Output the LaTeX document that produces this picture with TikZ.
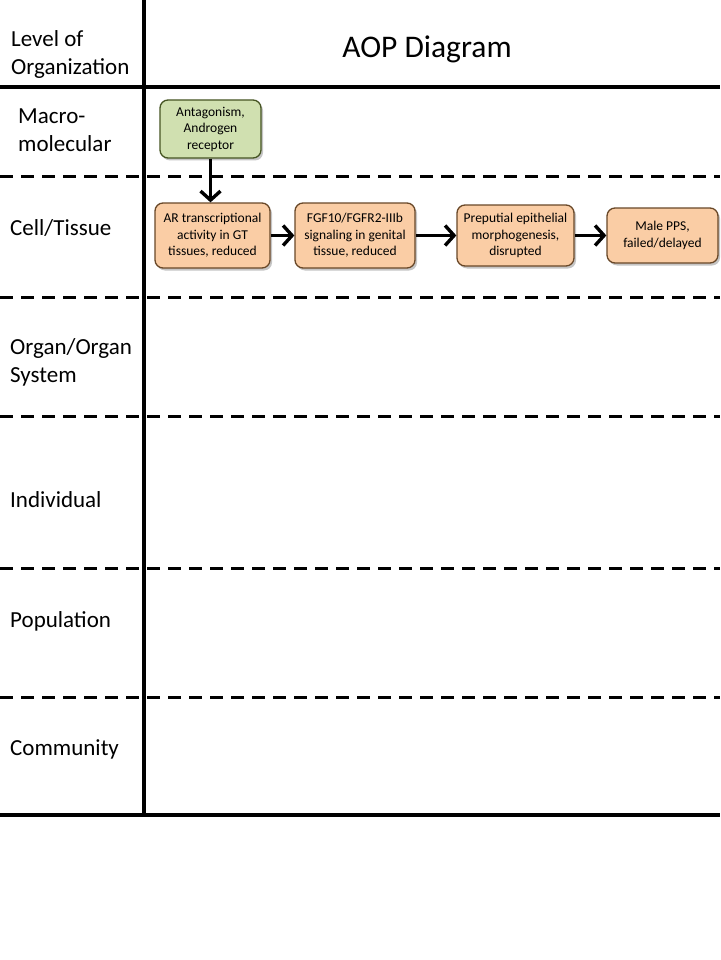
\documentclass[tikz,border=0pt]{standalone}
\usepackage{fontspec}
\setmainfont{Carlito}
\usetikzlibrary{arrows.meta,shadows}
\definecolor{gfill}{RGB}{208,224,176}
\definecolor{gdraw}{RGB}{70,85,35}
\definecolor{ofill}{RGB}{250,205,165}
\definecolor{odraw}{RGB}{105,72,40}
\tikzset{
  solidrule/.style={line width=3.2pt},
  dashrule/.style={line width=3pt, dash pattern=on 13pt off 8pt},
  lvl/.style={anchor=west, align=left, font=\fontsize{23}{28}\selectfont, inner sep=0pt},
  kebox/.style={rounded corners=8pt, draw=odraw, line width=1.3pt, fill=ofill, align=center,
     font=\fontsize{13.5}{16.5}\selectfont, inner sep=1pt,
     drop shadow={shadow xshift=2pt, shadow yshift=-2.5pt, opacity=0.45}},
  miebox/.style={kebox, draw=gdraw, fill=gfill},
  conn/.style={line width=3.4pt, -{Straight Barb[length=9pt,width=20pt,line width=3.4pt]}}
}
\begin{document}
\begin{tikzpicture}[x=1pt,y=-1pt]
\useasboundingbox (0,0) rectangle (720,960);
\fill[white] (0,0) rectangle (720,960);
% grid
\draw[solidrule] (144,0) -- (144,815);
\draw[solidrule] (0,87) -- (720,87);
\draw[solidrule] (0,815) -- (720,815);
\foreach \yy in {177,297,416,568,697}{
  \draw[dashrule] (0,\yy) -- (720,\yy);
}
% headers
\node[lvl] (h1) at (11,54) {Level of\\Organization};
\node[font=\fontsize{31.5}{36}\selectfont] (h2) at (427,49) {AOP Diagram};
\node[lvl] (l1) at (18,130) {Macro-\\molecular};
\node[lvl] (l2) at (10,228) {Cell/Tissue};
\node[lvl] (l3) at (10,362) {Organ/Organ\\System};
\node[lvl] (l4) at (10,500) {Individual};
\node[lvl] (l5) at (10,621) {Population};
\node[lvl] (l6) at (10,749) {Community};
% boxes
\node[miebox, minimum width=101pt, minimum height=58pt] (m) at (210.5,129) {Antagonism,\\Androgen\\receptor};
\node[kebox, minimum width=115pt, minimum height=65pt] (b1) at (212.5,235.5) {AR transcriptional\\activity in GT\\tissues, reduced};
\node[kebox, minimum width=120pt, minimum height=65pt] (b2) at (355,235.5) {FGF10/FGFR2-IIIb\\signaling in genital\\tissue, reduced};
\node[kebox, minimum width=117pt, minimum height=61pt] (b3) at (515.5,235.5) {Preputial epithelial\\morphogenesis,\\disrupted};
\node[kebox, minimum width=111pt, minimum height=55pt] (b4) at (662.5,235.5) {Male PPS,\\failed/delayed};
% connectors
\draw[conn] (m.south) -- (b1.north -| m.south);
\draw[conn] (b1.east) -- (b2.west);
\draw[conn] (b2.east) -- (b3.west);
\draw[conn] (b3.east) -- (b4.west);
\end{tikzpicture}
\end{document}
